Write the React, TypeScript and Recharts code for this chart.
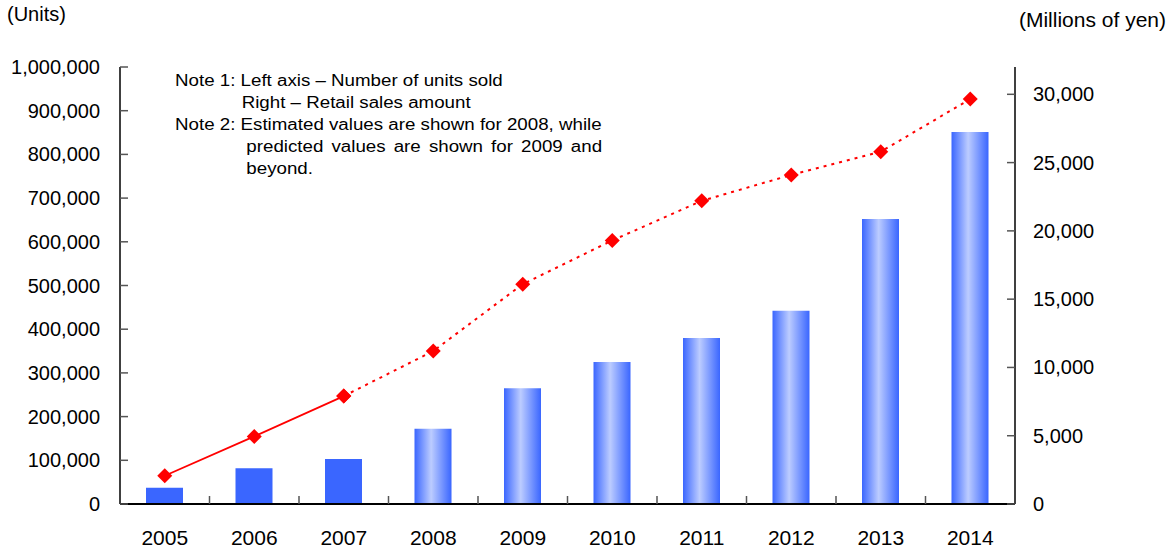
import React from 'react';
import { ComposedChart, Bar, Line, XAxis, YAxis, Cell } from 'recharts';

const years = ['2005', '2006', '2007', '2008', '2009', '2010', '2011', '2012', '2013', '2014'];
const units = [37000, 82000, 103000, 172000, 265000, 325000, 380000, 442000, 652000, 851000];
const salesYen = [2070, 4950, 7900, 11200, 16100, 19300, 22200, 24100, 25800, 29650];
const lastActual = 2; // 2007: last actual value; 2008 estimated, 2009+ predicted

const unitTicks = [0, 100000, 200000, 300000, 400000, 500000, 600000, 700000, 800000, 900000, 1000000];
const yenTicks = [0, 5000, 10000, 15000, 20000, 25000, 30000];

const data = years.map((year, i) => ({
  year,
  units: units[i],
  actual: i <= lastActual ? salesYen[i] : null,
  forecast: i >= lastActual ? salesYen[i] : null,
}));

const FONT = '"Liberation Sans", Arial, Helvetica, sans-serif';
const fmt = (v: number) => v.toLocaleString('en-US');

const Diamond = (props: any) => {
  const { cx, cy } = props;
  if (cx == null || cy == null || props.value == null) return <g />;
  const r = 7.5;
  return <path d={`M${cx},${cy - r}L${cx + r},${cy}L${cx},${cy + r}L${cx - r},${cy}Z`} fill="#FF0000" />;
};

const LeftTick = (props: any) => {
  const { x, y, payload } = props;
  return (
    <g>
      <line x1={x + 20} y1={y} x2={x + 28} y2={y} stroke="#555" strokeWidth={1.5} />
      <text x={x} y={y} dy={7} textAnchor="end" fontSize={20} fill="#000" fontFamily={FONT}>
        {fmt(payload.value)}
      </text>
    </g>
  );
};

const RightTick = (props: any) => {
  const { x, y, payload } = props;
  return (
    <g>
      <line x1={x - 18} y1={y} x2={x - 26} y2={y} stroke="#555" strokeWidth={1.5} />
      <text x={x} y={y} dy={7} textAnchor="start" fontSize={20} fill="#000" fontFamily={FONT}>
        {fmt(payload.value)}
      </text>
    </g>
  );
};

const BottomTick = (props: any) => {
  const { x, y, payload } = props;
  const half = payload.offset || 44.75;
  return (
    <g>
      {payload.index > 0 && (
        <line x1={x - half} y1={y} x2={x - half} y2={y - 8} stroke="#555" strokeWidth={1.5} />
      )}
      <text x={x} y={y} dy={41} textAnchor="middle" fontSize={21} fill="#000" fontFamily={FONT}>
        {payload.value}
      </text>
    </g>
  );
};

export default function App() {
  return (
    <div style={{ position: 'absolute', left: 0, top: 0, width: 1176, height: 549, background: '#fff', fontFamily: FONT }}>
      <div style={{ position: 'absolute', left: 7, top: 3, fontSize: 20 }}>(Units)</div>
      <div style={{ position: 'absolute', right: 10, top: 8, fontSize: 21 }}>(Millions of yen)</div>
      <div
        style={{
          position: 'absolute',
          left: 175,
          top: 70,
          width: 365,
          fontSize: 16,
          lineHeight: '22px',
          color: '#000',
          zIndex: 2,
          transform: 'scaleX(1.17)',
          transformOrigin: 'left top',
        }}
      >
        <div>Note 1: Left axis – Number of units sold</div>
        <div style={{ paddingLeft: 57 }}>Right – Retail sales amount</div>
        <div>Note 2: Estimated values are shown for 2008, while</div>
        <div style={{ paddingLeft: 61, textAlign: 'justify', textAlignLast: 'justify' }}>predicted values are shown for 2009 and</div>
        <div style={{ paddingLeft: 61 }}>beyond.</div>
      </div>
      <ComposedChart width={1176} height={549} data={data} margin={{ top: 67, right: 0, bottom: 0, left: 0 }}>
        <defs>
          <linearGradient id="barGrad" x1="0" y1="0" x2="1" y2="0">
            <stop offset="0%" stopColor="#3A66FF" />
            <stop offset="45%" stopColor="#BCCCFF" />
            <stop offset="100%" stopColor="#3A66FF" />
          </linearGradient>
        </defs>
        <XAxis
          dataKey="year"
          height={45}
          axisLine={{ stroke: '#000', strokeWidth: 2 }}
          tickLine={false}
          tickSize={0}
          tickMargin={0}
          tick={<BottomTick />}
          interval={0}
        />
        <YAxis
          yAxisId="units"
          orientation="left"
          width={120}
          domain={[0, 1000000]}
          ticks={unitTicks}
          interval={0}
          axisLine={{ stroke: '#000', strokeWidth: 1.5 }}
          tickLine={false}
          tickSize={0}
          tickMargin={20}
          tick={<LeftTick />}
        />
        <YAxis
          yAxisId="yen"
          orientation="right"
          width={161}
          domain={[0, 32000]}
          ticks={yenTicks}
          interval={0}
          axisLine={{ stroke: '#000', strokeWidth: 1.5 }}
          tickLine={false}
          tickSize={0}
          tickMargin={18}
          tick={<RightTick />}
        />
        <Bar yAxisId="units" dataKey="units" barSize={37} isAnimationActive={false}>
          {data.map((_, i) => (
            <Cell key={i} fill={i <= lastActual ? '#3A66FF' : 'url(#barGrad)'} />
          ))}
        </Bar>
        <Line
          yAxisId="yen"
          dataKey="forecast"
          stroke="#FF0000"
          strokeWidth={2}
          strokeDasharray="3 5"
          dot={<Diamond />}
          activeDot={false}
          isAnimationActive={false}
        />
        <Line
          yAxisId="yen"
          dataKey="actual"
          stroke="#FF0000"
          strokeWidth={1.8}
          dot={<Diamond />}
          activeDot={false}
          isAnimationActive={false}
        />
      </ComposedChart>
    </div>
  );
}
